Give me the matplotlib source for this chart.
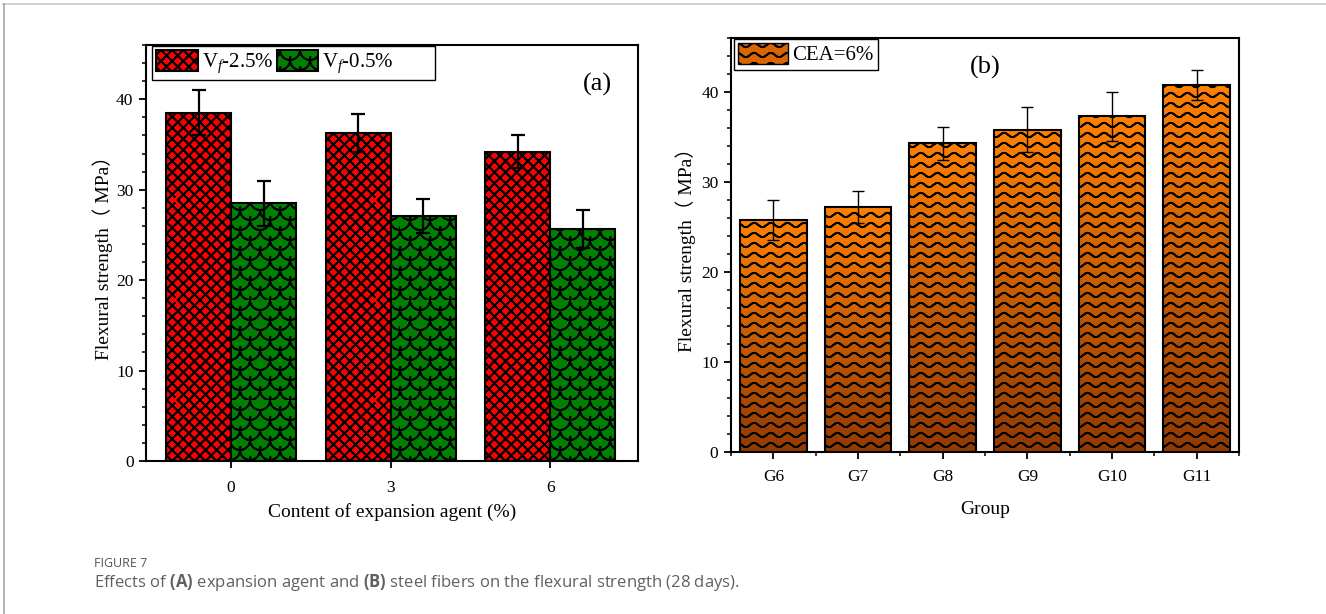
import numpy as np
import matplotlib
matplotlib.use('Agg')
import matplotlib.pyplot as plt
import matplotlib.hatch as mhatch
from matplotlib.path import Path
from matplotlib.patches import Patch
from matplotlib.lines import Line2D
from matplotlib.colors import LinearSegmentedColormap
from matplotlib.ticker import AutoMinorLocator, FixedLocator

# data, panel (a)
contents = [0, 3, 6]
vf25_mean = [38.5, 36.3, 34.2]
vf25_err = [2.5, 2.1, 1.8]
vf05_mean = [28.5, 27.1, 25.6]
vf05_err = [2.5, 1.9, 2.1]

# data, panel (b)
groups = ['G6', 'G7', 'G8', 'G9', 'G10', 'G11']
cea_mean = [25.8, 27.2, 34.3, 35.8, 37.3, 40.8]
cea_err = [2.2, 1.8, 1.8, 2.5, 2.7, 1.7]


# hatch patterns close to the Origin ones (cross, scales, waves)
# agg fills hatch paths too, so every polyline goes out and back (no area)
def polyline_hatch(char, lines):
    lines = [np.vstack([l, l[::-1][1:]]) for l in lines]

    class _Hatch(mhatch.HatchPatternBase):
        def __init__(self, hatch, density):
            self.on = char in hatch
            self.num_vertices = sum(len(l) for l in lines) if self.on else 0

        def set_vertices_and_codes(self, vertices, codes):
            i = 0
            for l in lines:
                n = len(l)
                vertices[i:i + n] = l
                codes[i] = Path.MOVETO
                codes[i + 1:i + n] = Path.LINETO
                i += n
    return _Hatch


cross = []
for c in np.arange(-9, 9) / 9:
    cross.append(np.array([[c, 0], [c + 1, 1]]))
    cross.append(np.array([[c, 1], [c + 1, 0]]))

scales = []
r = 0.1
t = np.linspace(np.pi, 2 * np.pi, 13)
for j in range(0, 11):
    for i in range(-1, 6):
        cx = 2 * r * i + r * (j % 2)
        cy = r * j
        scales.append(np.column_stack([cx + r * np.cos(t), cy + r * np.sin(t)]))

waves = []
xs = np.linspace(0, 1, 49)
for j in range(10):
    y0 = (j + 0.5) / 10
    waves.append(np.column_stack([xs, y0 + 0.022 * np.sin(2 * np.pi * 6 * xs)]))

mhatch._hatch_types = [polyline_hatch('x', cross),
                       polyline_hatch('o', scales),
                       polyline_hatch('-', waves)]

plt.rcParams['hatch.linewidth'] = 1.3
plt.rcParams['font.family'] = ['Liberation Serif', 'Noto Sans CJK SC']
plt.rcParams['mathtext.fontset'] = 'custom'
plt.rcParams['mathtext.rm'] = 'Liberation Serif'
plt.rcParams['mathtext.it'] = 'Liberation Serif:italic'
plt.rcParams['mathtext.bf'] = 'Open Sans:bold'

W, H = 1326, 614
fig = plt.figure(figsize=(W / 100, H / 100), dpi=100)

ax1 = fig.add_axes([146 / W, 1 - 461 / H, 492 / W, 416 / H])
ax2 = fig.add_axes([731 / W, 1 - 452 / H, 508 / W, 414 / H])

ylab = 'Flexural strength（ MPa）'

# ---- panel (a)
bw = 1.22
x = np.array(contents, dtype=float)
ax1.bar(x - bw / 2, vf25_mean, bw, color='#ff0000', edgecolor='black',
        linewidth=1.5, hatch='x', zorder=2, label='V$_f$-2.5%')
ax1.bar(x + bw / 2, vf05_mean, bw, color='#008000', edgecolor='black',
        linewidth=1.5, hatch='o', zorder=2, label='V$_f$-0.5%' + ' ' * 8)
ax1.errorbar(x - bw / 2, vf25_mean, yerr=vf25_err, fmt='none', ecolor='black',
             elinewidth=1.6, capsize=5, capthick=1.6, zorder=3)
ax1.errorbar(x + bw / 2, vf05_mean, yerr=vf05_err, fmt='none', ecolor='black',
             elinewidth=1.6, capsize=5, capthick=1.6, zorder=3)
ax1.set_xlim(-1.6, 7.65)
ax1.set_ylim(0, 46)
ax1.set_xticks(contents)
ax1.set_yticks([0, 10, 20, 30, 40])
ax1.yaxis.set_minor_locator(AutoMinorLocator(5))
ax1.set_xlabel('Content of expansion agent (%)', fontsize=14, labelpad=5)
ax1.set_ylabel(ylab, fontsize=14, labelpad=2)
ax1.text(0.917, 0.905, '(a)', transform=ax1.transAxes, fontsize=19,
         ha='center', va='center')
leg1 = ax1.legend(loc='upper left', bbox_to_anchor=(0.012, 0.998), ncol=2,
                  fontsize=15, handlelength=2.0, handleheight=1.15,
                  handletextpad=0.2, columnspacing=0.15, borderpad=0.2,
                  borderaxespad=0, fancybox=False, framealpha=1,
                  edgecolor='black')
leg1.get_frame().set_linewidth(1.0)

# ---- panel (b)
bw2 = 0.79
xb = np.arange(len(groups))
bars = ax2.bar(xb, cea_mean, bw2, facecolor='none', edgecolor='black',
               linewidth=1.5, hatch='-', zorder=2)
cmap = LinearSegmentedColormap.from_list('cea', ['#923a00', '#ff8000'])
grad = np.linspace(1, 0, 256).reshape(-1, 1)
for b in bars:
    bx, by, bwid, bh = b.get_x(), b.get_y(), b.get_width(), b.get_height()
    im = ax2.imshow(grad, cmap=cmap, vmin=0, vmax=1, aspect='auto',
                    extent=(bx, bx + bwid, by, by + bh), zorder=1)
    im.set_clip_path(b)
ax2.errorbar(xb, cea_mean, yerr=cea_err, fmt='none', ecolor='black',
             elinewidth=1.0, capsize=4.5, capthick=1.0, zorder=3)
ax2.set_xlim(-0.5, 5.5)
ax2.set_ylim(0, 46)
ax2.set_xticks(xb)
ax2.set_xticklabels(groups)
ax2.xaxis.set_minor_locator(FixedLocator(np.arange(-0.5, 6, 1)))
ax2.set_yticks([0, 10, 20, 30, 40])
ax2.yaxis.set_minor_locator(AutoMinorLocator(5))
ax2.set_xlabel('Group', fontsize=14, labelpad=12)
ax2.set_ylabel(ylab, fontsize=14, labelpad=4)
ax2.text(0.5, 0.93, '(b)', transform=ax2.transAxes, fontsize=19,
         ha='center', va='center')
h = Patch(facecolor='#d96500', edgecolor='black', linewidth=1.0, hatch='-',
          label='CEA=6%')
leg2 = ax2.legend(handles=[h], loc='upper left', bbox_to_anchor=(0.006, 0.998),
                  fontsize=15, handlelength=2.4, handleheight=1.15,
                  handletextpad=0.2, borderpad=0.2, borderaxespad=0,
                  fancybox=False, framealpha=1, edgecolor='black')
leg2.get_frame().set_linewidth(1.0)

for ax in (ax1, ax2):
    for s in ax.spines.values():
        s.set_linewidth(1.5)
    ax.tick_params(which='major', direction='out', length=5, width=1.3,
                   labelsize=12.5, pad=4)
    ax.tick_params(which='minor', direction='out', length=3, width=1.1)
ax1.tick_params(axis='x', which='major', pad=9)
ax2.tick_params(axis='x', which='major', pad=7)

# page frame lines and caption
fig.add_artist(Line2D([3 / W, 1], [1 - 4 / H, 1 - 4 / H],
                      transform=fig.transFigure, color='#c8c8c8', lw=1.2))
fig.add_artist(Line2D([4 / W, 4 / W], [0, 1 - 4 / H],
                      transform=fig.transFigure, color='#a8a8a8', lw=1.2))
fig.text(94 / W, 1 - 567 / H, 'FIGURE 7', family='Open Sans', fontsize=9,
         color='#555555', va='baseline')
fig.text(94 / W, 1 - 587 / H,
         r'Effects of $\mathbf{(A)}$ expansion agent and $\mathbf{(B)}$ '
         r'steel fibers on the flexural strength (28 days).',
         family='Open Sans', fontsize=12, color='#606060', va='baseline')

fig.savefig('out.png', dpi=100)
